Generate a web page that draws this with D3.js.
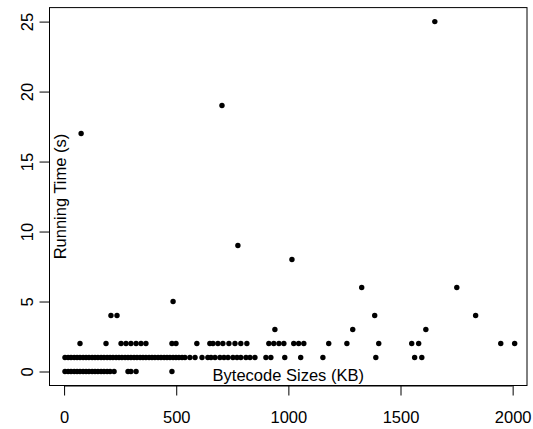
<!DOCTYPE html>
<html>
<head>
<meta charset="utf-8">
<script src="https://cdn.jsdelivr.net/npm/d3@7"></script>
<style>
  body { margin: 0; background: white; }
  text { font-family: "Liberation Sans", Arial, Helvetica, sans-serif; fill: black; }
</style>
</head>
<body>
<svg id="chart" width="533" height="429"></svg>
<script>
// bytecode size (KB) for each running time bucket
var time0 = [4, 18, 31, 45, 58, 71, 85, 98, 111, 125, 138, 151, 165, 178, 192, 205, 223, 285, 298, 321, 481];
var time1 = [4, 18, 31, 45, 58, 71, 85, 98, 111, 125, 138, 151, 165, 178, 192, 205, 218, 232, 245, 258,
             272, 285, 298, 312, 325, 339, 352, 365, 379, 392, 405, 419, 432, 446, 459, 472, 486, 499, 512, 526,
             539, 561, 584, 615, 641, 655, 673, 695, 713, 731, 753, 771, 788, 811, 829, 851, 900, 922, 984, 1055,
             1154, 1390, 1563, 1595];
var time2 = [71, 187, 254, 276, 298, 321, 343, 365, 481, 499, 592, 650, 664, 686, 708, 735, 762, 788, 815,
             913, 935, 958, 980, 1024, 1046, 1069, 1180, 1261, 1403, 1550, 1581, 1947, 2009];
var time3 = [940, 1287, 1613];
var time4 = [209, 236, 1385, 1835];
var time5 = [486];
var time6 = [1327, 1751];
var outliers = [[704, 19], [775, 9], [1016, 8], [76, 17], [1653, 25]];

var xTicks = [0, 500, 1000, 1500, 2000];
var yTicks = [0, 5, 10, 15, 20, 25];

var points = [];
[[0, time0], [1, time1], [2, time2], [3, time3], [4, time4], [5, time5], [6, time6]].forEach(function(g){
    g[1].forEach(function(kb){ points.push({size: kb, time: g[0]}); });
});
outliers.forEach(function(o){ points.push({size: o[0], time: o[1]}); });

var svg = d3.select('#chart');
var box = {left: 49.5, right: 527, top: 7.6, bottom: 385.5};

var x = d3.scaleLinear().domain([-65, 2064]).range([box.left, box.right]);
var y = d3.scaleLinear().domain([-1, 26]).range([box.bottom, box.top]);

// points
svg.append('g').selectAll('circle')
    .data(points)
    .enter().append('circle')
    .attr('cx', d => x(d.size))
    .attr('cy', d => y(d.time))
    .attr('r', 2.7)
    .attr('fill', 'black');

// x axis, R style: ticks hang below the box, labels further down
var xAxis = svg.append('g')
    .attr('transform', 'translate(0,' + box.bottom + ')')
    .call(d3.axisBottom(x).tickValues(xTicks).tickFormat(d3.format('d'))
        .tickSize(10).tickPadding(16).tickSizeOuter(0));
xAxis.select('.domain')
    .attr('d', 'M' + x(0) + ',0.5H' + x(2000));
xAxis.selectAll('text').attr('font-size', 16.5).style('font-family', null);

// y axis, labels rotated
var yAxis = svg.append('g')
    .attr('transform', 'translate(' + box.left + ',0)')
    .call(d3.axisLeft(y).tickValues(yTicks).tickFormat(d3.format('d')).tickSize(10).tickSizeOuter(0));
yAxis.select('.domain').remove();
yAxis.selectAll('.tick text')
    .attr('font-size', 16.5)
    .style('font-family', null)
    .attr('x', null).attr('dy', null)
    .attr('text-anchor', 'middle')
    .attr('transform', 'translate(-17,0) rotate(-90)');

// plot box
svg.append('rect')
    .attr('x', box.left).attr('y', box.top)
    .attr('width', box.right - box.left)
    .attr('height', box.bottom - box.top)
    .attr('fill', 'none')
    .attr('stroke', 'black')
    .attr('stroke-width', 1);

// axis titles, drawn inside the box like the original
svg.append('text')
    .attr('x', (box.left + box.right) / 2)
    .attr('y', 381)
    .attr('text-anchor', 'middle')
    .attr('font-size', 16.5)
    .text('Bytecode Sizes (KB)');

svg.append('text')
    .attr('transform', 'translate(66,' + ((box.top + box.bottom) / 2) + ') rotate(-90)')
    .attr('text-anchor', 'middle')
    .attr('font-size', 16.5)
    .text('Running Time (s)');
</script>
</body>
</html>
